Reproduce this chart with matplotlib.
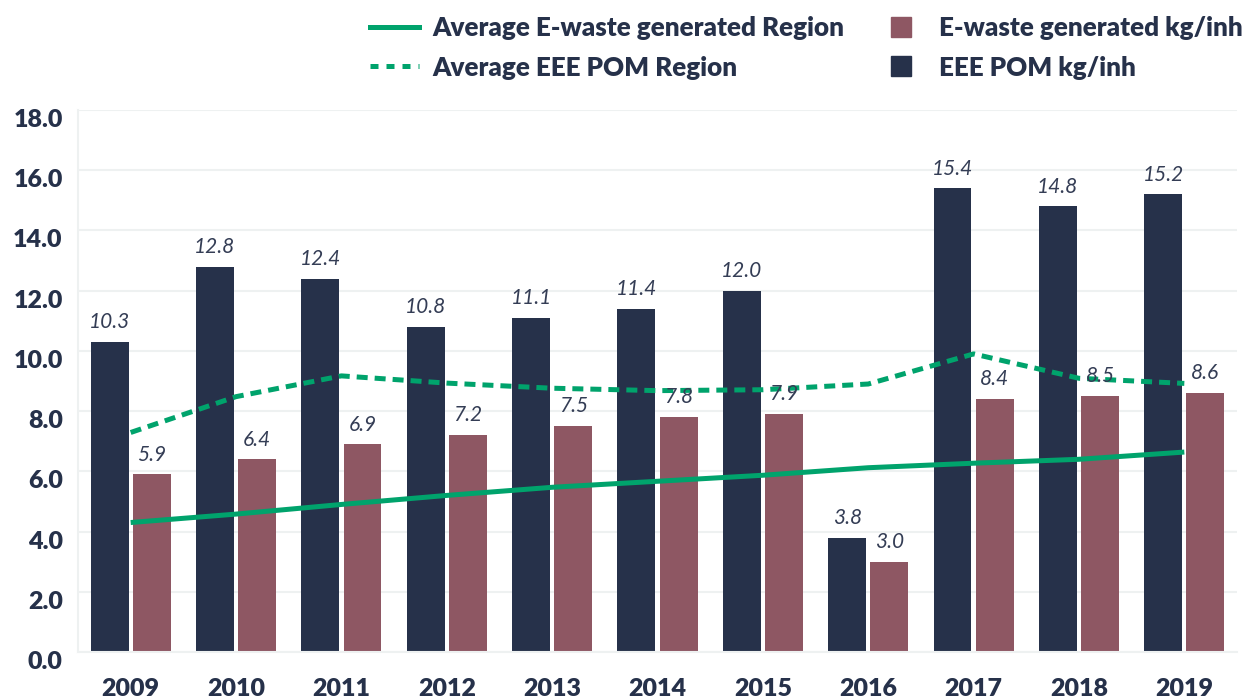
import matplotlib
matplotlib.use("Agg")
import matplotlib.pyplot as plt
from matplotlib.lines import Line2D
from matplotlib.transforms import ScaledTranslation
import numpy as np

plt.rcParams['font.family'] = ['Lato', 'DejaVu Sans']

# ---- data ----
years = ["2009", "2010", "2011", "2012", "2013", "2014", "2015", "2016", "2017", "2018", "2019"]
eee_pom = [10.3, 12.8, 12.4, 10.8, 11.1, 11.4, 12.0, 3.8, 15.4, 14.8, 15.2]
ewaste_generated = [5.9, 6.4, 6.9, 7.2, 7.5, 7.8, 7.9, 3.0, 8.4, 8.5, 8.6]
avg_ewaste_region = [4.30, 4.58, 4.90, 5.20, 5.47, 5.67, 5.87, 6.12, 6.27, 6.40, 6.64]
avg_eee_pom_region = [7.29, 8.48, 9.17, 8.93, 8.76, 8.68, 8.71, 8.90, 9.90, 9.09, 8.92]
y_ticks = [0, 2, 4, 6, 8, 10, 12, 14, 16, 18]

# ---- style ----
NAVY = "#26314A"
MAROON = "#8E5763"
GREEN = "#00A36C"
GRID = "#EEF1F1"
LABEL = "#343D55"
BOLD = "heavy"

fig = plt.figure(figsize=(12.48, 7.0), dpi=100)
ax = fig.add_axes([78 / 1248, 48 / 700, (1237 - 78) / 1248, (652 - 110) / 700])

x = np.arange(len(years))
w = 0.36
off = 0.2

bars_pom = ax.bar(x - off, eee_pom, width=w, color=NAVY, zorder=2)
bars_gen = ax.bar(x + off, ewaste_generated, width=w, color=MAROON, zorder=2)

for bars, vals in ((bars_pom, eee_pom), (bars_gen, ewaste_generated)):
    for rect, v in zip(bars, vals):
        ax.annotate(f"{v:.1f}", (rect.get_x() + rect.get_width() / 2, v),
                    xytext=(0, 7), textcoords="offset points", ha="center", va="bottom",
                    fontsize=15, fontstyle="italic", fontweight="normal",
                    color=LABEL, zorder=4)

ax.plot(x, avg_ewaste_region, color=GREEN, lw=3.6, solid_capstyle="butt", zorder=3)
ax.plot(x, avg_eee_pom_region, color=GREEN, lw=3.6, dashes=(2.2, 1.4),
        dash_capstyle="butt", zorder=3)

ax.set_xlim(-0.5, 10.5)
ax.set_ylim(0, 18)
ax.set_yticks(y_ticks)
ax.set_yticklabels([f"{t:.1f}" for t in y_ticks])
ax.set_xticks(x)
ax.set_xticklabels(years)

ax.yaxis.grid(True, color=GRID, lw=1.5, zorder=0)
ax.set_axisbelow(True)
for s in ("top", "right"):
    ax.spines[s].set_visible(False)
for s in ("left", "bottom"):
    ax.spines[s].set_color(GRID)
    ax.spines[s].set_linewidth(1.5)

ax.tick_params(axis="both", length=0, labelsize=18, labelcolor=NAVY)
ax.tick_params(axis="y", pad=11)
ax.tick_params(axis="x", pad=19)
for lbl in ax.get_yticklabels() + ax.get_xticklabels():
    lbl.set_fontweight(BOLD)
for lbl in ax.get_yticklabels():
    lbl.set_transform(lbl.get_transform() + ScaledTranslation(0, -0.08, fig.dpi_scale_trans))

handles = [
    Line2D([], [], color=GREEN, lw=3.6),
    Line2D([], [], color=GREEN, lw=3.6, dashes=(1.6, 1.6)),
    Line2D([], [], marker="s", ls="none", color=MAROON, markersize=14),
    Line2D([], [], marker="s", ls="none", color=NAVY, markersize=14),
]
labels = ["Average E-waste generated Region", "Average EEE POM Region",
          "E-waste generated kg/inh", "EEE POM kg/inh"]
leg = fig.legend(handles, labels, loc="upper left", bbox_to_anchor=(370 / 1248, 1 - 16 / 700),
                 ncol=2, frameon=False, fontsize=18.7, handlelength=1.9, handletextpad=0.5,
                 columnspacing=1.25, labelspacing=0.6, borderpad=0, borderaxespad=0)
for t in leg.get_texts():
    t.set_fontweight(BOLD)
    t.set_color(NAVY)

fig.savefig("out.png", dpi=100, facecolor="white")
